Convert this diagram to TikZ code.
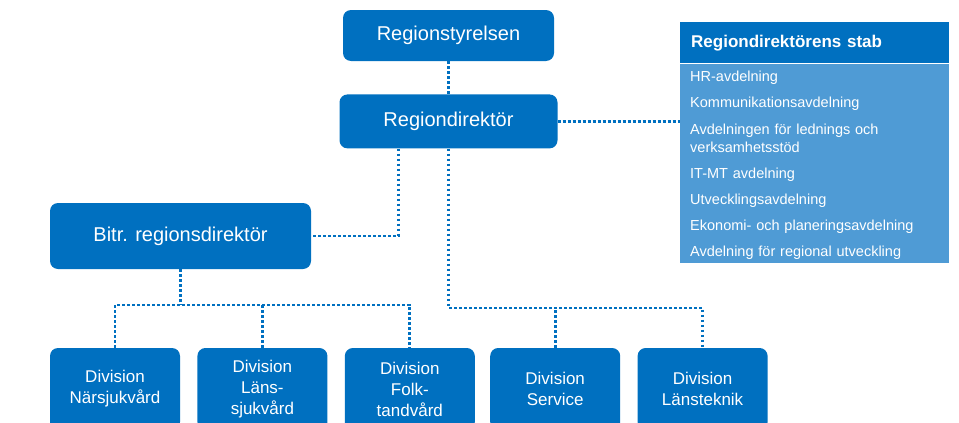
\documentclass[tikz,border=0pt]{standalone}
\usepackage{fontspec}
\setmainfont{Liberation Sans}
\usetikzlibrary{positioning}

\definecolor{rjblue}{HTML}{0070C0}
\definecolor{rjlight}{HTML}{4F9BD5}

\begin{document}
\begin{tikzpicture}[
    x=1pt, y=-1pt,
    orgbox/.style={
      rectangle,
      fill=rjblue,
      rounded corners=8pt,
      text=white,
      align=center,
      inner sep=0pt
    },
    topbox/.style={orgbox, font=\fontsize{20}{24}\selectfont},
    divbox/.style={
      orgbox,
      minimum width=130pt,
      minimum height=82pt,
      font=\fontsize{17}{21}\selectfont
    },
    link/.style={
      draw=rjblue,
      line width=2.8pt,
      dash pattern=on 2.8pt off 2.2pt
    }
  ]

    \clip (0,0) rectangle (959,423);

    % Top: board and director
    \node (styr) [topbox, minimum width=211pt, minimum height=51pt] at (448.5,35.5) {Regionstyrelsen};
    \node (rd)   [topbox, minimum width=218pt, minimum height=54pt, below=33pt of styr] {Regiondirektör};
    \node (bitr) [topbox, minimum width=261pt, minimum height=66pt] at (180.5,236) {Bitr. regionsdirektör};

    % Right: staff
    \node (stabhead) [rectangle, fill=rjblue, text=white, anchor=north west,
                      minimum width=269pt, minimum height=41pt, text width=247pt,
                      inner xsep=11pt, align=left,
                      font=\bfseries\fontsize{17}{20}\selectfont] at (680,22) {Regiondirektörens stab};
    \node (stablist) [rectangle, fill=rjlight, text=white, anchor=north west,
                      minimum width=269pt, minimum height=197pt, text width=249pt,
                      inner xsep=10pt, align=left,
                      font=\fontsize{14.5}{18}\selectfont] at (stabhead.south west)
      {\rule{0pt}{14.5pt}HR-avdelning\\[8pt]
       Kommunikationsavdelning\\[9pt]
       Avdelningen för lednings och\\
       verksamhetsstöd\\[8pt]
       IT-MT avdelning\\[8pt]
       Utvecklingsavdelning\\[8pt]
       Ekonomi- och planeringsavdelning\\[8pt]
       Avdelning för regional utveckling};

    % Bottom row: divisions
    \node (div1) [divbox] at (115,389) {Division\\Närsjukvård};
    \node (div2) [divbox, right=17pt of div1] {Division\\Läns-\\sjukvård};
    \node (div3) [divbox, right=17pt of div2] {Division\\Folk-\\tandvård};
    \node (div4) [divbox, right=15pt of div3] {Division\\Service};
    \node (div5) [divbox, right=17pt of div4] {Division\\Länsteknik};

    \coordinate (bus1) at (0,305);
    \coordinate (bus2) at (0,308);

    % Edges
    \draw[link] (styr) -- (rd);
    \draw[link] (rd.east) -- (rd.east -| stablist.west);
    \draw[link] ([xshift=-50pt]rd.south) |- (bitr.east);

    \draw[link] (rd.south) -- (rd.south |- bus2) -| (div5.north);
    \draw[link] (div4.north) -- (div4.north |- bus2);

    \draw[link] (bitr.south) -- (bitr.south |- bus1);
    \draw[link] (div1.north) |- (div3.north |- bus1) -- (div3.north);
    \draw[link] (div2.north) -- (div2.north |- bus1);

  \end{tikzpicture}
\end{document}
